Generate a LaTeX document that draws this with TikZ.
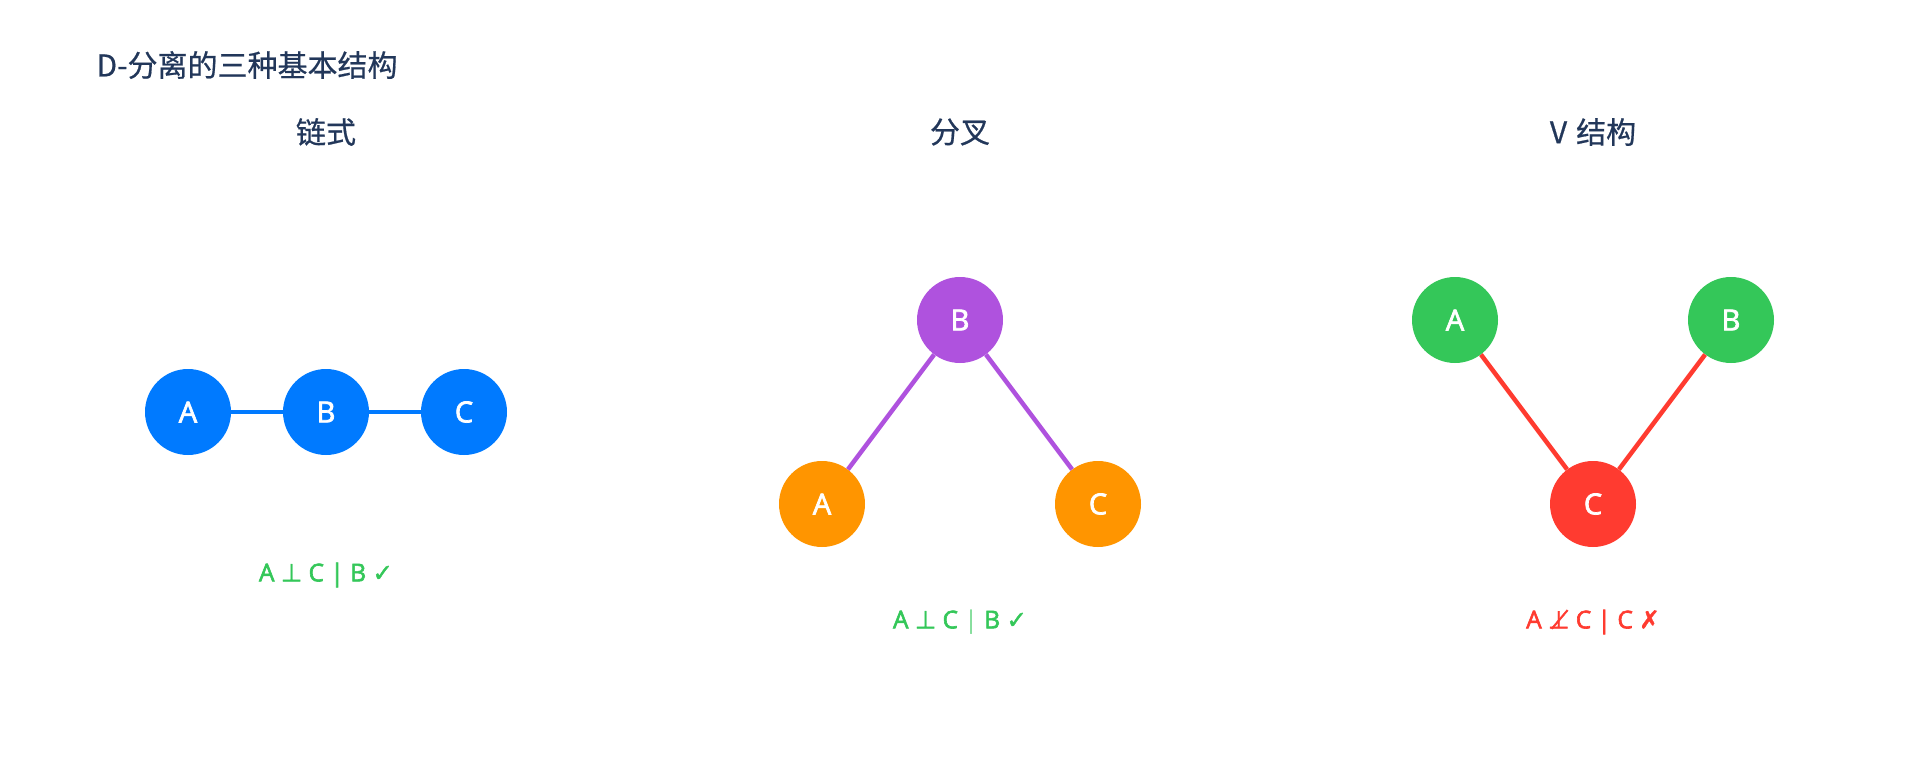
\documentclass[tikz,border=0pt]{standalone}
\usepackage{fontspec}
\setmainfont{Open Sans}
\newfontfamily\lat{Open Sans}[FakeBold=2.5]
\newfontfamily\cjk{Noto Sans CJK SC}[FakeBold=0.6]
\newfontfamily\sym{DejaVu Sans}[FakeBold=1.5]
\definecolor{titlec}{HTML}{22375A}
\definecolor{cblue}{HTML}{007AFF}
\definecolor{cpurple}{HTML}{AF52DE}
\definecolor{corange}{HTML}{FF9500}
\definecolor{cgreen}{HTML}{34C759}
\definecolor{cred}{HTML}{FF3B30}
\tikzset{
  vnode/.style={circle, minimum size=86pt, inner sep=0pt, text=white, font=\lat\fontsize{29}{32}\selectfont},
  edge/.style={line width=4.5pt},
  heading/.style={text=titlec, font=\cjk\fontsize{30}{34}\selectfont},
  result/.style={font=\lat\fontsize{24.5}{28}\selectfont}
}
\begin{document}
\begin{tikzpicture}[x=1pt,y=-1pt]
\useasboundingbox (0,0) rectangle (1920,768);
\node[heading, anchor=west] (title) at (93,65) {D-分离的三种基本结构};
% chain
\node[heading] (h1) at (326,132) {链式};
\node[vnode, fill=cblue] (ca) at (188,412) {A};
\node[vnode, fill=cblue] (cb) at (326,412) {B};
\node[vnode, fill=cblue] (cc) at (464,412) {C};
\draw[edge, cblue] (ca) -- (cb);
\draw[edge, cblue] (cb) -- (cc);
\node[result, text=cgreen] (r1) at (326,575) {A {\sym ⊥} C | B {\sym ✓}};
% fork
\node[heading] (h2) at (960,132) {分叉};
\node[vnode, fill=cpurple] (fb) at (960,320) {B};
\node[vnode, fill=corange] (fa) at (822,504) {A};
\node[vnode, fill=corange] (fc) at (1098,504) {C};
\draw[edge, cpurple] (fb) -- (fa);
\draw[edge, cpurple] (fb) -- (fc);
\node[result, text=cgreen] (r2) at (960,622) {A {\sym ⊥} C {\color{cgreen!70}\fontspec{Open Sans}|} B {\sym ✓}};
% V structure
\node[heading] (h3) at (1593,132) {V\hspace{0.3em}结构};
\node[vnode, fill=cgreen] (va) at (1455,320) {A};
\node[vnode, fill=cgreen] (vb) at (1731,320) {B};
\node[vnode, fill=cred] (vc) at (1593,504) {C};
\draw[edge, cred] (va) -- (vc);
\draw[edge, cred] (vb) -- (vc);
\node[result, text=cred] (r3) at (1593,622) {A {\sym ⊥̸} C | C {\sym ✗}};
\end{tikzpicture}
\end{document}
